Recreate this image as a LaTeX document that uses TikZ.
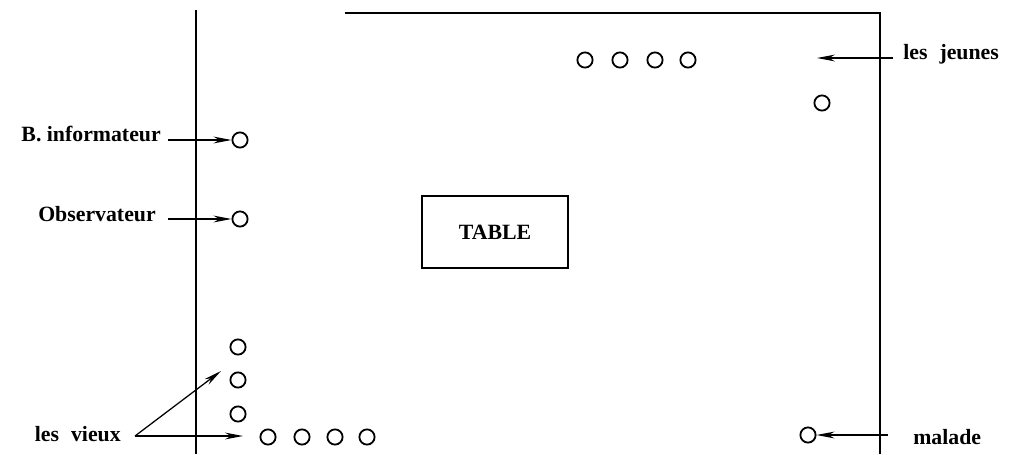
\documentclass[tikz,border=0pt]{standalone}
\usepackage{fontspec}
\setmainfont{Liberation Serif}
\usetikzlibrary{arrows.meta}

\tikzset{
  lbl/.style={inner sep=0pt,font=\bfseries\fontsize{15.5}{17}\selectfont},
  seat/.style={circle,draw,line width=1.3pt,minimum size=0.38cm,inner sep=0pt},
  arr/.style={line width=0.9pt,-{Stealth[length=0.45cm,width=0.17cm]}},
  wall/.style={line width=2pt}
}

\begin{document}
\begin{tikzpicture}[x=0.025cm,y=-0.025cm]
\path[use as bounding box] (0,0) rectangle (1017,454);
% walls
\draw[wall] (196,10) -- (196,454);
\draw[wall,line width=1.5pt] (345,13) -- (880,13) -- (880,454);
% table
\node[draw,line width=1.4pt,minimum width=3.65cm,minimum height=1.78cm,lbl] (table) at (495,232) {TABLE};
% seats
\node[seat] (j1) at (585,60) {};
\node[seat] (j2) at (620,60) {};
\node[seat] (j3) at (655,60) {};
\node[seat] (j4) at (688,60) {};
\node[seat] (j5) at (822,103) {};
\node[seat] (inf) at (240,140) {};
\node[seat] (obs) at (240,219) {};
\node[seat] (v1) at (238,347) {};
\node[seat] (v2) at (238,380) {};
\node[seat] (v3) at (238,414) {};
\node[seat] (v4) at (268,437) {};
\node[seat] (v5) at (302,437) {};
\node[seat] (v6) at (335,437) {};
\node[seat] (v7) at (367,437) {};
\node[seat] (mal) at (808,435) {};
% labels
\node[lbl,anchor=east] (tinf) at (161,134) {B.\ informateur};
\node[lbl,anchor=east] (tobs) at (156,214) {Observateur};
\node[lbl,anchor=east] (tvieux) at (121,434) {les\hspace{0.55em}vieux};
\node[lbl,anchor=west] (tjeunes) at (903,54) {les\hspace{0.55em}jeunes};
\node[lbl,anchor=west] (tmal) at (913,437) {malade};
% arrows
\coordinate (apex) at (135,436);
\coordinate (vup) at (221,371);
\coordinate (vdown) at (243,436);
\coordinate (jend) at (817,58);
\draw[arr] (tinf.east |- inf) ++(7,0) -- (inf.west);
\draw[arr] (tobs.east |- obs) ++(12,0) -- (obs.west);
\draw[arr] (apex) -- (vup);
\draw[arr] (apex) -- (vdown);
\draw[arr] (tjeunes.west |- jend) ++(-10,0) -- (jend);
\draw[arr] (tmal.west |- mal) ++(-25,0) -- (mal.east);
\end{tikzpicture}
\end{document}
